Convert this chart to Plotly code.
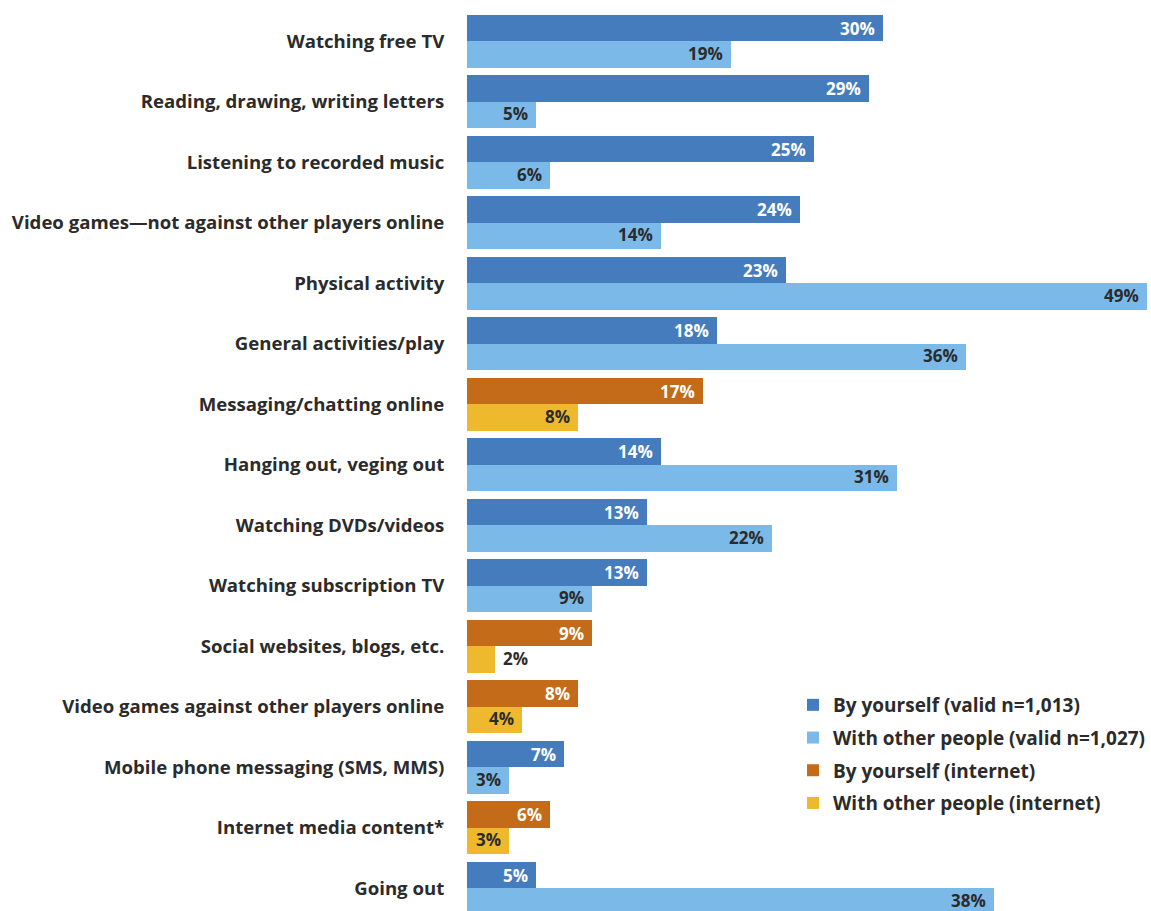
import plotly.graph_objects as go

categories = [
    "Watching free TV",
    "Reading, drawing, writing letters",
    "Listening to recorded music",
    "Video games—not against other players online",
    "Physical activity",
    "General activities/play",
    "Messaging/chatting online",
    "Hanging out, veging out",
    "Watching DVDs/videos",
    "Watching subscription TV",
    "Social websites, blogs, etc.",
    "Video games against other players online",
    "Mobile phone messaging (SMS, MMS)",
    "Internet media content*",
    "Going out",
]
by_yourself = [30, 29, 25, 24, 23, 18, 17, 14, 13, 13, 9, 8, 7, 6, 5]
with_others = [19, 5, 6, 14, 49, 36, 8, 31, 22, 9, 2, 4, 3, 3, 38]
is_internet = [False, False, False, False, False, False, True, False, False,
               False, True, True, False, True, False]

series_names = [
    "By yourself (valid n=1,013)",
    "With other people (valid n=1,027)",
    "By yourself (internet)",
    "With other people (internet)",
]

DARK_BLUE = "#457cbd"
LIGHT_BLUE = "#7bb9e8"
ORANGE = "#c46b1a"
YELLOW = "#eeb92c"
TEXT = "#2b2b2b"
FONT = "Open Sans"

BAR_W = 0.438


def pick(values, flags, want):
    return [v if f == want else None for v, f in zip(values, flags)]


fig = go.Figure()
specs = [
    (series_names[0], pick(by_yourself, is_internet, False), DARK_BLUE, -BAR_W),
    (series_names[1], pick(with_others, is_internet, False), LIGHT_BLUE, 0.0),
    (series_names[2], pick(by_yourself, is_internet, True), ORANGE, -BAR_W),
    (series_names[3], pick(with_others, is_internet, True), YELLOW, 0.0),
]
for name, vals, color, off in specs:
    fig.add_trace(go.Bar(
        name=name, legendgroup=name, x=vals, y=categories, orientation="h",
        marker=dict(color=color, line=dict(width=0)),
        offset=off, width=BAR_W, hoverinfo="x+y",
    ))

# value labels at the bar ends
annotations = []
for cat, v1, v2, net in zip(categories, by_yourself, with_others, is_internet):
    for v, top in ((v1, True), (v2, False)):
        inside = v >= 3
        if inside:
            color = "white" if top else TEXT
        else:
            color = TEXT
        annotations.append(dict(
            x=v, y=cat, xref="x", yref="y", text=f"<b>{v}%</b>",
            showarrow=False, xanchor="right" if inside else "left",
            xshift=-7 if inside else 7, yshift=13 if top else -12,
            borderpad=0,
            font=dict(family=FONT, size=17, color=color),
        ))

fig.update_layout(
    width=1151, height=911,
    margin=dict(l=467, r=0, t=0, b=0),
    paper_bgcolor="white", plot_bgcolor="white",
    barmode="overlay", bargap=0,
    font=dict(family=FONT, color=TEXT),
    xaxis=dict(range=[0, 49.1], visible=False, fixedrange=True),
    yaxis=dict(
        categoryorder="array", categoryarray=categories,
        range=[14.38, -0.678], showgrid=False, zeroline=False, showline=False,
        ticks="outside", ticklen=18, tickcolor="rgba(0,0,0,0)",
        tickfont=dict(family=FONT, size=18.6, color=TEXT, weight="bold"),
        automargin=False,
    ),
    legend=dict(
        x=0.479, y=0.247, xanchor="left", yanchor="top",
        font=dict(family=FONT, size=19, color=TEXT, weight="bold"),
        bgcolor="rgba(0,0,0,0)", traceorder="grouped", tracegroupgap=5,
        itemclick=False, itemdoubleclick=False,
    ),
    annotations=annotations,
    showlegend=True,
)

fig.write_html("out.html")
